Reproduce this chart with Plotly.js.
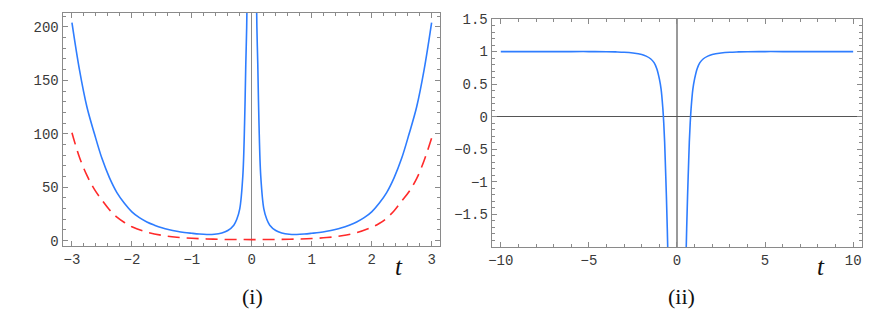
<!DOCTYPE html>
<html>
<head>
<meta charset="utf-8">
<script src="https://cdn.plot.ly/plotly-3.0.1.min.js"></script>
<style>
  html, body { margin: 0; padding: 0; background: #fff; }
  #chart { width: 872px; height: 326px; }
</style>
</head>
<body>
<div id="chart"></div>
<script>
// Panel (i): solid blue curve (null splits the two branches)
const tBlue = [-3, -2.875, -2.75, -2.625, -2.5, -2.375, -2.25, -2.125, -2, -1.875, -1.75, -1.625, -1.5, -1.375, -1.25, -1.125, -1, -0.875, -0.75, -0.625, -0.5, -0.4, -0.3, -0.25, -0.2, -0.15, -0.12, -0.1, -0.085, -0.07,
               null,
               0.07, 0.085, 0.1, 0.12, 0.15, 0.2, 0.25, 0.3, 0.4, 0.5, 0.625, 0.75, 0.875, 1, 1.125, 1.25, 1.375, 1.5, 1.625, 1.75, 1.875, 2, 2.125, 2.25, 2.375, 2.5, 2.625, 2.75, 2.875, 3];
const yBlue = [204, 160, 125, 100, 77, 59, 45, 35, 27, 21.5, 17.5, 14.5, 12, 10.2, 8.8, 7.7, 6.9, 6.2, 5.8, 6, 7.2, 9.5, 14.5, 20, 30, 60, 110, 165, 200, 260,
               null,
               260, 200, 165, 110, 60, 30, 20, 14.5, 9.5, 7.2, 6, 5.8, 6.2, 6.9, 7.7, 8.8, 10.2, 12, 14.5, 17.5, 21.5, 27, 35, 45, 59, 77, 100, 125, 160, 204];

// Panel (i): dashed red curve
const tRed = [-3, -2.875, -2.75, -2.625, -2.5, -2.375, -2.25, -2.125, -2, -1.75, -1.5, -1.25, -1, -0.75, -0.5, -0.25, 0, 0.25, 0.5, 0.75, 1, 1.25, 1.5, 1.75, 2, 2.125, 2.25, 2.375, 2.5, 2.625, 2.75, 2.875, 3];
const yRed = [101, 78, 61, 48, 38, 29, 22, 17, 13, 8, 5, 3.2, 2.2, 1.6, 1.2, 1.05, 1, 1.05, 1.2, 1.5, 2, 2.9, 4.6, 7.5, 12.5, 16, 21, 28, 37, 46, 58, 75, 96];

// Panel (ii): blue curve
const tRight = [-10, -8, -6, -5, -4, -3.5, -3, -2.5, -2, -1.75, -1.5, -1.3, -1.15, -1, -0.9, -0.8, -0.75, -0.7, -0.65, -0.6, -0.55, -0.5,
                null,
                0.5, 0.55, 0.6, 0.65, 0.7, 0.75, 0.8, 0.9, 1, 1.15, 1.3, 1.5, 1.75, 2, 2.5, 3, 3.5, 4, 5, 6, 8, 10];
const yRight = [1, 1, 1, 1, 0.998, 0.995, 0.99, 0.978, 0.955, 0.93, 0.89, 0.83, 0.74, 0.58, 0.42, 0.12, -0.1, -0.39, -0.8, -1.22, -1.72, -2.3,
                null,
                -2.3, -1.72, -1.22, -0.8, -0.39, -0.1, 0.12, 0.42, 0.58, 0.74, 0.83, 0.89, 0.93, 0.955, 0.978, 0.99, 0.995, 0.998, 1, 1, 1, 1];

const tickFont = { family: 'Liberation Mono, Courier New, monospace', size: 14, color: '#3a3a3a' };
const frame = '#8a8a8a';
const serif = 'Liberation Serif, DejaVu Serif, serif';

function axisBase(extra) {
  return Object.assign({
    showline: true,
    linecolor: frame,
    linewidth: 1.4,
    mirror: 'ticks',
    ticks: 'inside',
    ticklen: 5,
    tickwidth: 1,
    tickcolor: frame,
    showgrid: false,
    tickfont: tickFont,
    fixedrange: true
  }, extra);
}

const traces = [
  {
    x: tBlue, y: yBlue, xaxis: 'x', yaxis: 'y',
    mode: 'lines', type: 'scatter',
    line: { color: '#2e7dff', width: 1.6, shape: 'spline', smoothing: 1 },
    connectgaps: false, hoverinfo: 'none'
  },
  {
    x: tRed, y: yRed, xaxis: 'x', yaxis: 'y',
    mode: 'lines', type: 'scatter',
    line: { color: '#ff2a2a', width: 1.6, dash: '12px,7px', shape: 'spline', smoothing: 1 },
    hoverinfo: 'none'
  },
  {
    x: tRight, y: yRight, xaxis: 'x2', yaxis: 'y2',
    mode: 'lines', type: 'scatter',
    line: { color: '#2e7dff', width: 1.6, shape: 'spline', smoothing: 1 },
    connectgaps: false, hoverinfo: 'none'
  }
];

function label(text, x, y, size) {
  return { text: text, xref: 'paper', yref: 'paper', x: x, y: y,
           xanchor: 'center', yanchor: 'middle', showarrow: false,
           font: { family: serif, size: size, color: '#111' } };
}

const layout = {
  width: 872,
  height: 326,
  margin: { l: 0, r: 0, t: 0, b: 0 },
  showlegend: false,
  paper_bgcolor: '#ffffff',
  plot_bgcolor: '#ffffff',
  xaxis: axisBase({
    domain: [0.0722, 0.5046],
    range: [-3.15, 3.14],
    tickvals: [-3, -2, -1, 0, 1, 2, 3],
    ticktext: ['\u22123', '\u22122', '\u22121', '0', '1', '2', '3'],
    minor: { ticks: 'inside', dtick: 0.2, tick0: 0, ticklen: 3, tickcolor: frame },
    zeroline: true, zerolinecolor: '#8a8a8a', zerolinewidth: 1.4,
    anchor: 'y'
  }),
  yaxis: axisBase({
    domain: [0.2454, 0.9601],
    range: [-5, 213],
    tickvals: [0, 50, 100, 150, 200],
    minor: { ticks: 'inside', dtick: 10, tick0: 0, ticklen: 3, tickcolor: frame },
    zeroline: false,
    anchor: 'x'
  }),
  xaxis2: axisBase({
    domain: [0.5642, 0.9885],
    range: [-10.5, 10.5],
    tickvals: [-10, -5, 0, 5, 10],
    ticktext: ['\u221210', '\u22125', '0', '5', '10'],
    minor: { ticks: 'inside', dtick: 1, tick0: 0, ticklen: 3, tickcolor: frame },
    zeroline: true, zerolinecolor: '#9a9a9a', zerolinewidth: 1.4,
    anchor: 'y2'
  }),
  yaxis2: axisBase({
    domain: [0.2423, 0.9417],
    range: [-2, 1.5],
    tickvals: [-1.5, -1, -0.5, 0, 0.5, 1, 1.5],
    ticktext: ['\u22121.5', '\u22121', '\u22120.5', '0', '0.5', '1', '1.5'],
    minor: { ticks: 'inside', dtick: 0.1, tick0: 0, ticklen: 3, tickcolor: frame },
    zeroline: true, zerolinecolor: '#555555', zerolinewidth: 1.2,
    anchor: 'x2'
  }),
  annotations: [
    label('<i>t</i>', 0.457, 0.183, 25),
    label('<i>t</i>', 0.941, 0.183, 25),
    label('(i)', 0.2895, 0.092, 22),
    label('(ii)', 0.781, 0.092, 22)
  ]
};

Plotly.newPlot('chart', traces, layout, { displayModeBar: false, staticPlot: true });
</script>
</body>
</html>
